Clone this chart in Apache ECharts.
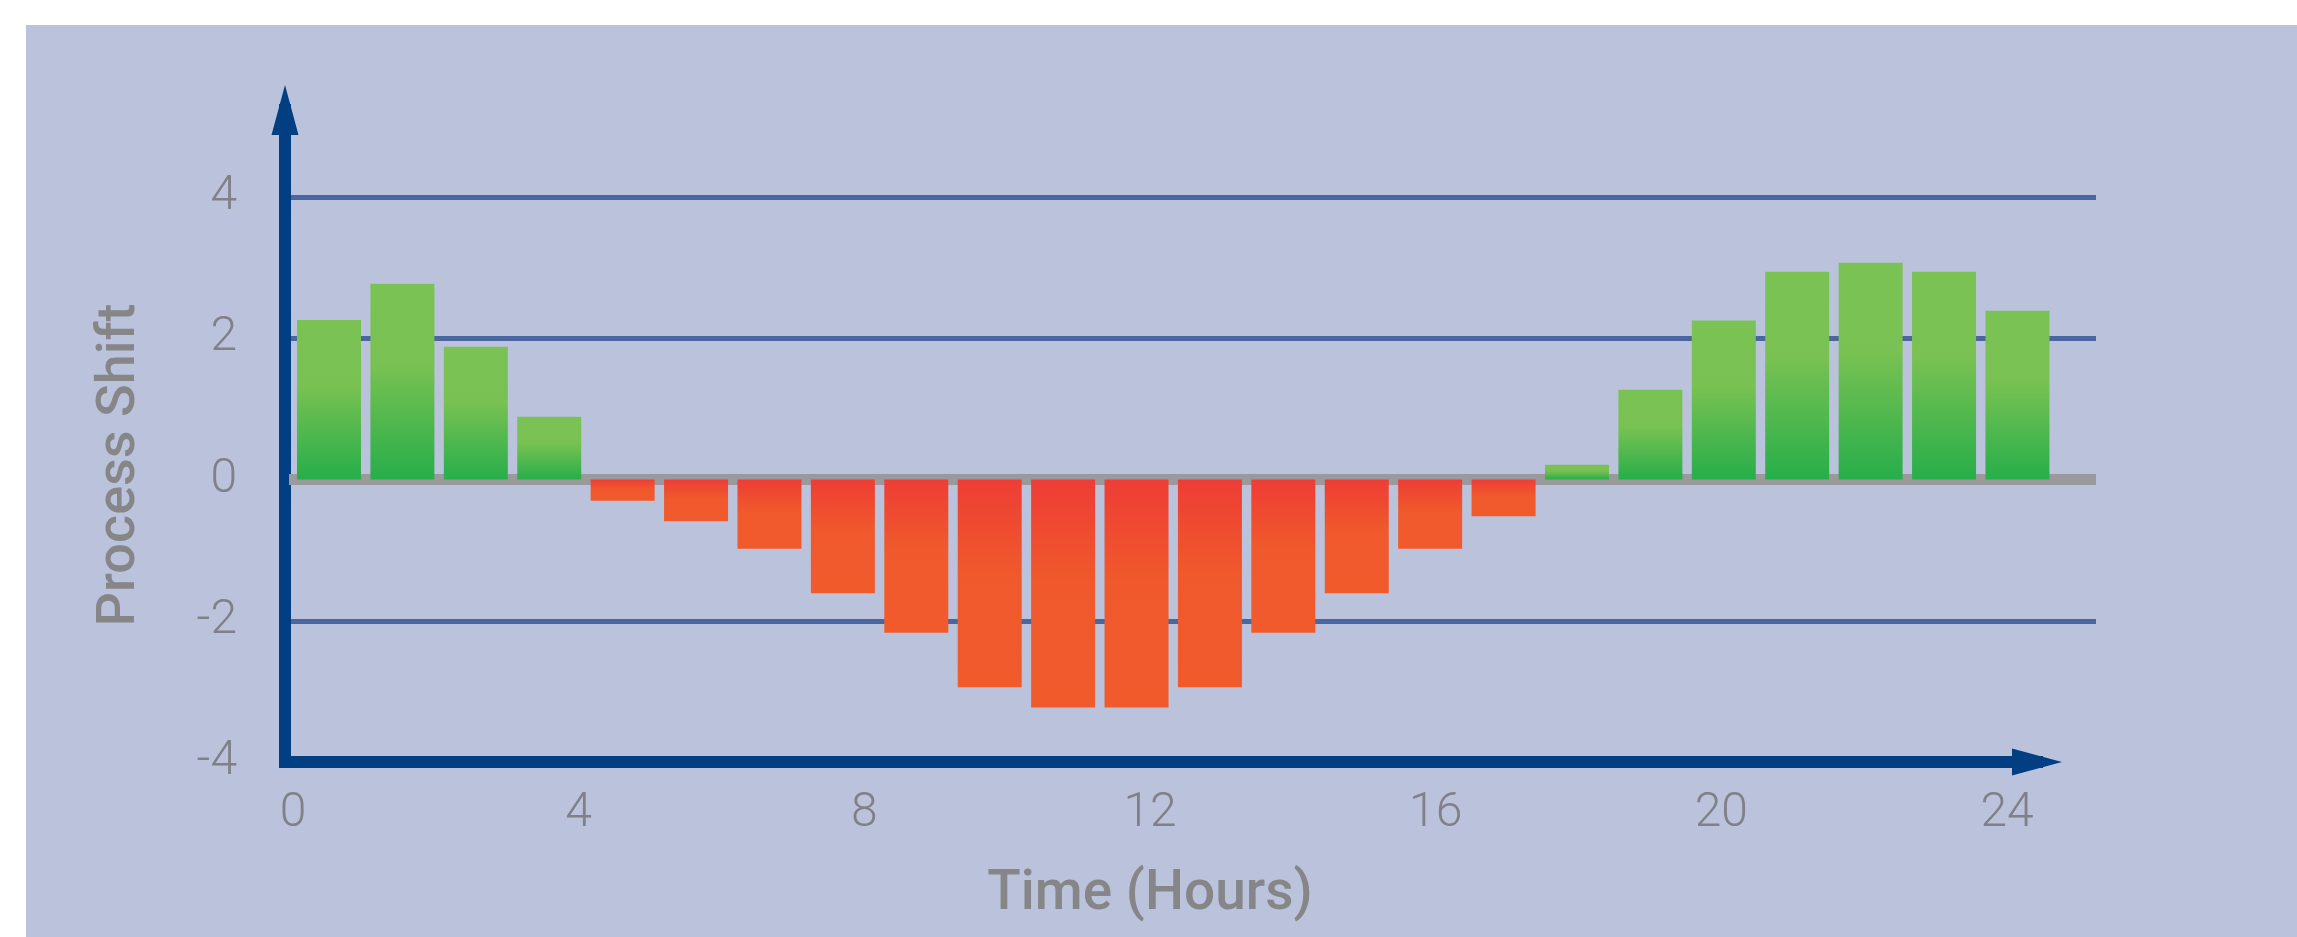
<!DOCTYPE html>
<html>
<head>
<meta charset="utf-8">
<script src="https://cdn.jsdelivr.net/npm/echarts@6/dist/echarts.min.js"></script>
<style>
  html, body { margin: 0; padding: 0; background: #ffffff; }
  #panel { position: absolute; left: 26px; top: 25px; width: 2271px; height: 912px; background: #bbc3dc; }
  #chart { position: absolute; left: 0; top: 0; width: 2297px; height: 937px; }
</style>
</head>
<body>
<div id="panel"></div>
<div id="chart"></div>
<script>
// ---- data ----
const hours = [0, 1, 2, 3, 4, 5, 6, 7, 8, 9, 10, 11, 12, 13, 14, 15, 16, 17, 18, 19, 20, 21, 22, 23];
const processShift = [2.26, 2.77, 1.88, 0.89, -0.30, -0.59, -0.98, -1.61, -2.17, -2.94, -3.23, -3.23,
                      -2.94, -2.17, -1.61, -0.98, -0.52, 0.21, 1.27, 2.25, 2.94, 3.07, 2.94, 2.39];
const xTickLabels = [0, 4, 8, 12, 16, 20, 24];
const yTickLabels = [-4, -2, 0, 2, 4];
const xTitle = 'Time (Hours)';
const yTitle = 'Process Shift';

// ---- styles ----
const AXIS_BLUE = '#023f82';
const GRID_BLUE = '#4a66a0';
const ZERO_GRAY = '#9a9a9c';
const LABEL_GRAY = '#7f8088';
const TITLE_GRAY = '#868688';
const FONT = 'Roboto, "Liberation Sans", sans-serif';

const greenGrad = new echarts.graphic.LinearGradient(0, 0, 0, 1, [
  { offset: 0, color: '#7ac253' }, { offset: 0.42, color: '#78c152' }, { offset: 1, color: '#27ae4a' }
]);
const redGrad = new echarts.graphic.LinearGradient(0, 0, 0, 1, [
  { offset: 0, color: '#ee3d36' }, { offset: 0.45, color: '#f0592b' }, { offset: 1, color: '#f15a2b' }
]);

const chart = echarts.init(document.getElementById('chart'), null, { renderer: 'canvas' });

const hidden = { show: false };
const option = {
  backgroundColor: 'transparent',
  animation: false,
  grid: [
    { left: 289, right: 201, top: 197, bottom: 175 },   // bars, gridlines, y labels
    { left: 285, right: 260, top: 110, bottom: 175 },   // axis frame with arrows
    { left: 293, right: 290, top: 197, bottom: 175 },   // x tick labels + x title
    { left: 289, right: 201, top: 168, bottom: 175 }    // y title
  ],
  xAxis: [
    {
      gridIndex: 0, type: 'value', min: -0.545, max: 24.07,
      axisLine: { show: true, onZero: true, lineStyle: { color: ZERO_GRAY, width: 11, cap: 'butt' } },
      axisTick: hidden, axisLabel: hidden, splitLine: hidden
    },
    {
      gridIndex: 1, type: 'value', min: 0, max: 1,
      axisLine: { show: true, onZero: false, symbol: ['none', 'triangle'], symbolSize: [27, 50],
                  lineStyle: { color: AXIS_BLUE, width: 12, cap: 'square' } },
      axisTick: hidden, axisLabel: hidden, splitLine: hidden
    },
    {
      gridIndex: 2, type: 'value', min: xTickLabels[0], max: xTickLabels[xTickLabels.length - 1], interval: 4,
      axisLine: hidden, axisTick: hidden, splitLine: hidden,
      axisLabel: { show: true, margin: 28, color: LABEL_GRAY, fontSize: 48, fontWeight: 300, fontFamily: FONT },
      name: xTitle, nameLocation: 'middle', nameGap: 106,
      nameTextStyle: { color: TITLE_GRAY, fontSize: 55, fontWeight: 500, fontFamily: FONT }
    },
    { gridIndex: 3, type: 'value', min: 0, max: 1, show: false }
  ],
  yAxis: [
    {
      gridIndex: 0, type: 'value', min: yTickLabels[0], max: yTickLabels[yTickLabels.length - 1], interval: 2,
      axisLine: hidden, axisTick: hidden,
      axisLabel: { show: true, margin: 52, color: LABEL_GRAY, fontSize: 48, fontWeight: 300, fontFamily: FONT },
      splitLine: { show: true, lineStyle: { color: ['rgba(0,0,0,0)', GRID_BLUE, GRID_BLUE, GRID_BLUE, GRID_BLUE], width: 5, cap: 'butt' } }
    },
    {
      gridIndex: 1, type: 'value', min: 0, max: 1,
      axisLine: { show: true, onZero: false, symbol: ['none', 'triangle'], symbolSize: [27, 50],
                  lineStyle: { color: AXIS_BLUE, width: 12, cap: 'square' } },
      axisTick: hidden, axisLabel: hidden, splitLine: hidden
    },
    { gridIndex: 2, type: 'value', min: 0, max: 1, show: false },
    {
      gridIndex: 3, type: 'value', min: 0, max: 1,
      axisLine: hidden, axisTick: hidden, axisLabel: hidden, splitLine: hidden,
      name: yTitle, nameLocation: 'middle', nameGap: 142, nameRotate: 90,
      nameTextStyle: { color: TITLE_GRAY, fontSize: 54, fontWeight: 500, fontFamily: FONT }
    }
  ],
  series: [
    {
      type: 'bar',
      xAxisIndex: 0, yAxisIndex: 0,
      barWidth: 64,
      data: hours.map((h, i) => [h, processShift[i]]),
      itemStyle: {
        color: (p) => (p.value[1] >= 0 ? greenGrad : redGrad)
      },
      z: 3
    }
  ]
};
chart.setOption(option);
</script>
</body>
</html>
